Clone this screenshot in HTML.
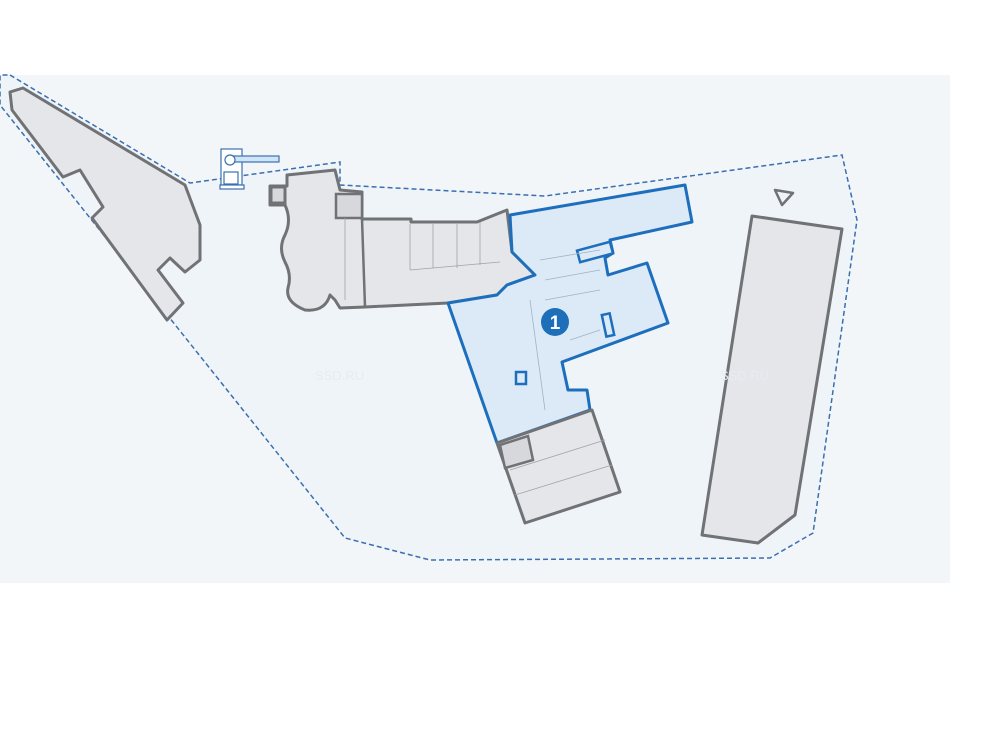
<!DOCTYPE html>
<html><head><style>html,body{margin:0;padding:0;background:#fff;width:1000px;height:750px;overflow:hidden}</style></head>
<body>
<svg width="1000" height="750" viewBox="0 0 1000 750" xmlns="http://www.w3.org/2000/svg">
<rect x="0" y="75" width="950" height="508" fill="#f3f6f9"/>
<!-- boundary -->
<polygon points="10,75 190,183 340,162 340,185 545,196 842,155 857,220 813,533 770,558 430,560 345,538 0,105 0,75" fill="#eff4f8" stroke="#3a6fb0" stroke-width="1.5" stroke-dasharray="5,3"/>
<!-- left building -->
<polygon points="10,92 23,88 185,185 200,225 200,260 185,272 170,258 158,270 183,303 167,320 92,218 103,207 80,170 63,177 12,110" fill="#e4e6e9" stroke="#707275" stroke-width="3" stroke-linejoin="round"/>
<!-- gatehouse -->
<g stroke="#3a70b0" fill="#fff" stroke-width="1.2">
<rect x="221" y="149" width="21" height="36"/>
<rect x="224" y="172" width="14" height="12"/>
<rect x="220" y="185" width="24" height="4"/>
<rect x="234" y="156" width="45" height="6" fill="#cfe4f5"/>
<circle cx="230" cy="160" r="5"/>
</g>
<!-- gray main building -->
<path d="M270,186 L287,186 L287,175 L335,170 L340,190 L362,192 L362,219 L411,219 L411,222 L477,222 L507,210 L512,252 L535,275 L507,285 L497,295 L448,303 L365,307 L340,308 L335,300 L330,295 Q325,312 305,310 Q285,302 288,288 Q292,275 285,262 Q278,248 285,235 Q292,220 285,205 L270,205 Z" fill="#e4e6e9" stroke="#707275" stroke-width="3" stroke-linejoin="round"/>
<rect x="271" y="187" width="14" height="16" fill="#d6d8db" stroke="#707275" stroke-width="3"/>
<rect x="336" y="194" width="26" height="24" fill="#d6d8db" stroke="#707275" stroke-width="2.5"/>
<line x1="362" y1="219" x2="365" y2="307" stroke="#707275" stroke-width="2.5"/>
<g stroke="#a0a3a6" stroke-width="0.8">
<line x1="410" y1="224" x2="410" y2="270"/><line x1="433" y1="224" x2="433" y2="268"/><line x1="457" y1="224" x2="457" y2="268"/><line x1="480" y1="222" x2="480" y2="265"/>
<line x1="410" y1="270" x2="500" y2="262"/><line x1="345" y1="218" x2="345" y2="300"/>
</g>
<!-- blue building -->
<polygon points="510,215 685,185 692,222 610,240 613,253 605,258 608,275 647,263 668,323 562,362 568,390 587,390 590,410 497,443 448,303 497,295 507,285 535,275 512,252" fill="#dbeaf6" stroke="#1d6fbd" stroke-width="3" stroke-linejoin="round"/>
<rect x="578" y="246" width="34" height="12" fill="#dbeaf6" stroke="#1d6fbd" stroke-width="2.5" transform="rotate(-15 595 252)"/>
<rect x="604" y="314" width="8" height="22" fill="none" stroke="#1d6fbd" stroke-width="2.5" transform="rotate(-12 608 325)"/>
<rect x="516" y="372" width="10" height="12" fill="none" stroke="#1d6fbd" stroke-width="2.5"/>
<g stroke="#9fb3c4" stroke-width="0.8" fill="none">
<line x1="530" y1="300" x2="545" y2="410"/><line x1="540" y1="260" x2="600" y2="250"/><line x1="545" y1="280" x2="600" y2="270"/>
<line x1="545" y1="300" x2="600" y2="290"/><line x1="570" y1="340" x2="600" y2="330"/>
</g>
<circle cx="555" cy="322" r="14" fill="#1c6fb8"/>
<text x="555" y="329" font-family="Liberation Sans, sans-serif" font-size="19" font-weight="bold" fill="#fff" text-anchor="middle">1</text>
<!-- lower gray building -->
<polygon points="497,443 592,410 620,492 525,523" fill="#e4e6e9" stroke="#707275" stroke-width="3" stroke-linejoin="round"/>
<polygon points="500,445 528,436 533,460 505,468" fill="#d6d8db" stroke="#707275" stroke-width="2.5"/>
<g stroke="#a0a3a6" stroke-width="0.8"><line x1="510" y1="470" x2="605" y2="440"/><line x1="515" y1="495" x2="612" y2="465"/></g>
<!-- right building -->
<polygon points="752,216 842,229 795,515 758,543 702,535" fill="#e4e6e9" stroke="#707275" stroke-width="3" stroke-linejoin="round"/>
<polygon points="775,190 793,193 782,205" fill="none" stroke="#707275" stroke-width="2.5" stroke-linejoin="round"/>
<text x="315" y="380" font-family="Liberation Sans, sans-serif" font-size="13" fill="#e6ecf1">SSD.RU</text>
<text x="720" y="380" font-family="Liberation Sans, sans-serif" font-size="13" fill="#e6ecf1">SSD.RU</text>
</svg>
</body></html>
